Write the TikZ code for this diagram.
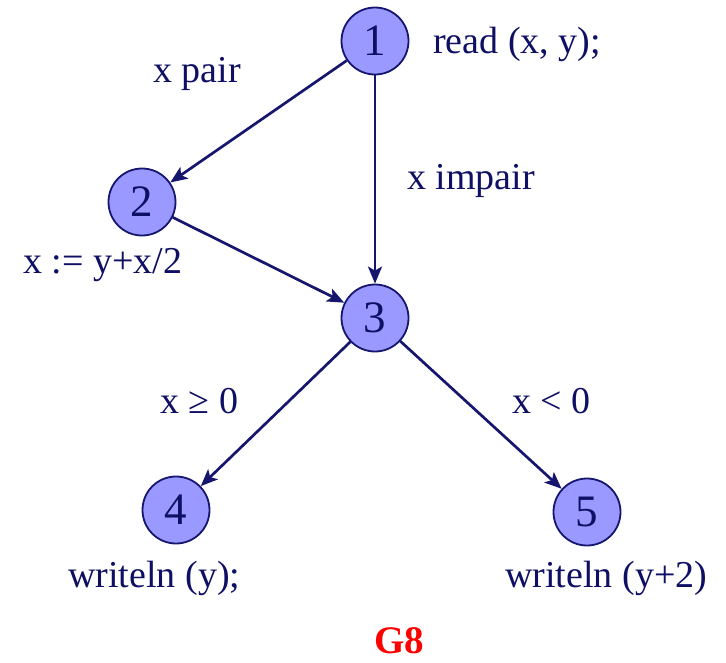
\documentclass[tikz,border=0pt]{standalone}
\usepackage{fontspec}
\setmainfont{Liberation Serif}
\usetikzlibrary{arrows.meta}
\definecolor{navy}{RGB}{22,22,110}
\definecolor{nodefill}{RGB}{153,153,255}
\definecolor{txtcol}{RGB}{15,15,100}
\tikzset{
  vertex/.style={circle,draw=navy,line width=1.8pt,fill=nodefill,minimum size=67pt,inner sep=0pt,
    font=\fontsize{45}{45}\selectfont,text=txtcol},
  lbl/.style={anchor=base west,inner sep=0pt,font=\fontsize{38}{38}\selectfont,text=txtcol},
  edge/.style={draw=navy,line width=2.7pt,-{Stealth[length=17pt,width=14pt,inset=4pt]}}
}
\begin{document}
\begin{tikzpicture}[x=1pt,y=-1pt]
\useasboundingbox[fill=white] (0,0) rectangle (726,662);
\node[vertex] (n1) at (375,41) {1};
\node[vertex] (n2) at (142,202) {2};
\node[vertex] (n3) at (375,318) {3};
\node[vertex] (n4) at (176,510) {4};
\node[vertex] (n5) at (587,512) {5};
\draw[edge] (n1) -- (n2);
\draw[edge] (n1) -- (n3);
\draw[edge] (n2) -- (n3);
\draw[edge] (n3) -- (n4);
\draw[edge] (n3) -- (n5);
\node[lbl] (l1) at (433,53) {read (x, y);};
\node[lbl] (l2) at (153,82) {x pair};
\node[lbl] (l3) at (407,189) {x impair};
\node[lbl] (l4) at (23,273) {x := y+x/2};
\node[lbl] (l5) at (160,413) {x ≥ 0};
\node[lbl] (l6) at (512,413) {x < 0};
\node[lbl] (l7) at (68,587) {writeln (y);};
\node[lbl] (l8) at (505,587) {writeln (y+2)};
\node[anchor=base,inner sep=0pt,font=\fontsize{39}{39}\selectfont\bfseries,text=red] (g8) at (399,653) {G8};
\end{tikzpicture}
\end{document}
